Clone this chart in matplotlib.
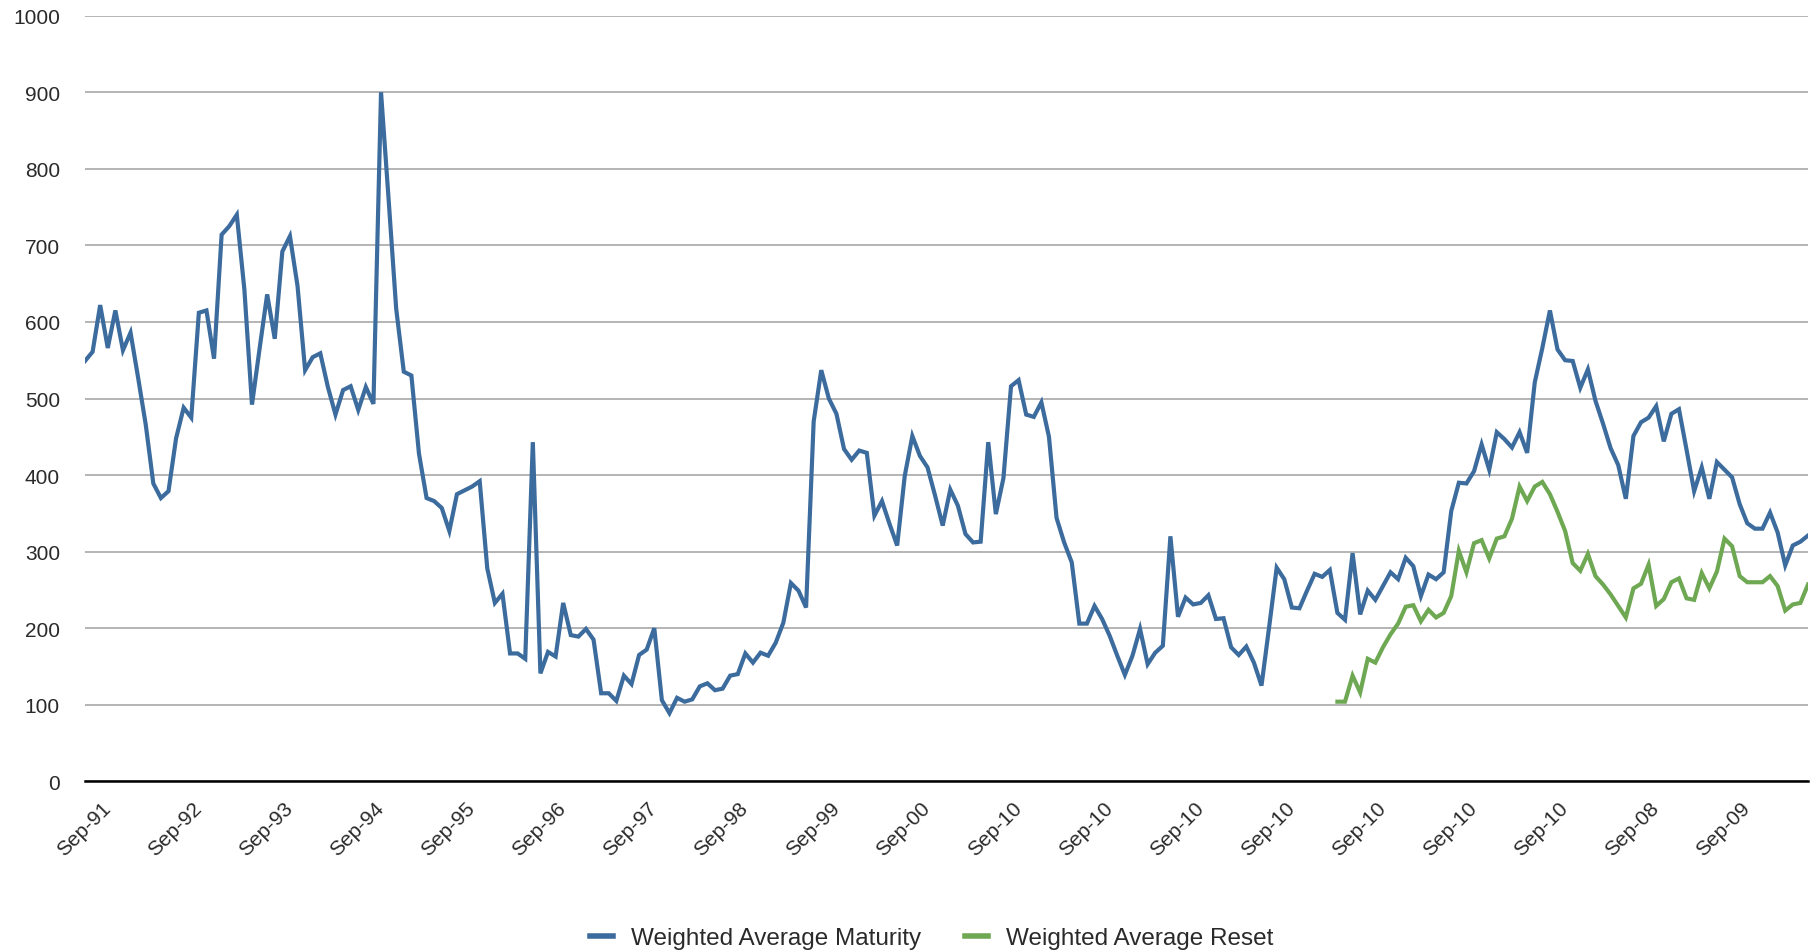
import numpy as np
import matplotlib
matplotlib.use("Agg")
import matplotlib.pyplot as plt

plt.rcParams['font.family'] = ['Liberation Sans', 'DejaVu Sans']

tick_labels = ["Sep-91", "Sep-92", "Sep-93", "Sep-94", "Sep-95", "Sep-96", "Sep-97",
               "Sep-98", "Sep-99", "Sep-00", "Sep-10", "Sep-10", "Sep-10", "Sep-10",
               "Sep-10", "Sep-10", "Sep-10", "Sep-08", "Sep-09"]

wam = [549, 561, 622, 566, 615, 563, 586, 527, 466, 389, 370, 379, 448, 488, 475, 612,
       615, 552, 714, 725, 740, 642, 492, 565, 636, 578, 692, 712, 647, 537, 554, 559,
       515, 479, 511, 516, 485, 515, 493, 900, 760, 617, 535, 530, 428, 370, 366, 357,
       327, 375, 380, 385, 392, 278, 233, 245, 167, 167, 160, 443, 141, 169, 163, 233,
       191, 189, 199, 185, 115, 115, 105, 138, 127, 165, 172, 200, 106, 89, 109, 104,
       107, 124, 128, 119, 121, 138, 140, 167, 155, 168, 164, 181, 207, 259, 249, 227,
       470, 537, 500, 480, 434, 420, 432, 429, 347, 366, 336, 308, 399, 451, 425, 410,
       373, 334, 381, 360, 323, 312, 313, 443, 349, 396, 516, 524, 479, 476, 495, 450,
       344, 312, 286, 206, 206, 229, 212, 190, 164, 139, 164, 199, 153, 168, 177, 320,
       215, 240, 231, 233, 243, 212, 213, 175, 165, 176, 155, 125, 201, 279, 264, 227,
       226, 249, 271, 267, 276, 220, 211, 298, 218, 249, 237, 255, 273, 264, 292, 281,
       242, 270, 264, 273, 353, 390, 389, 405, 440, 407, 456, 447, 436, 456, 429, 521,
       566, 615, 564, 550, 549, 514, 538, 497, 467, 435, 413, 369, 451, 469, 475, 490,
       444, 480, 486, 433, 379, 410, 369, 417, 407, 397, 362, 337, 330, 330, 351, 325,
       282, 308, 313, 321]

war_values = [104, 104, 138, 116, 160, 155, 175, 192, 206, 228, 230, 209, 224, 214, 220,
              242, 301, 273, 311, 315, 291, 317, 320, 343, 385, 366, 385, 391, 375, 352,
              327, 285, 275, 297, 268, 257, 244, 229, 214, 252, 258, 283, 229, 238, 260,
              265, 239, 237, 272, 252, 274, 317, 307, 268, 260, 260, 260, 268, 255, 223,
              231, 233, 257]

n = len(wam)
war = [np.nan] * (n - len(war_values)) + war_values
x = np.arange(n)

W, H = 1820, 953
fig = plt.figure(figsize=(W / 100, H / 100), dpi=100)
ax = fig.add_axes([85 / W, 1 - 782.3 / H, (1808 - 85) / W, (782.3 - 16.7) / H])

blue = '#3C6B9D'
green = '#6EA853'
l1, = ax.plot(x, wam, color=blue, lw=3.0, solid_joinstyle='miter', label='Weighted Average Maturity', zorder=3)
l2, = ax.plot(x, war, color=green, lw=3.0, solid_joinstyle='miter', label='Weighted Average Reset', zorder=3)

ax.set_xlim(0, n - 1)
ax.set_ylim(0, 1000)
ax.set_yticks(np.arange(0, 1001, 100))
ax.yaxis.grid(True, color='#A8A8A8', lw=1.2)
ax.set_axisbelow(True)
for s in ['top', 'right', 'left']:
    ax.spines[s].set_visible(False)
ax.spines['bottom'].set_color('black')
ax.spines['bottom'].set_linewidth(1.8)
ax.spines['bottom'].set_zorder(4)

ax.tick_params(axis='y', length=0, pad=18, labelsize=15, labelcolor='#2a2a2a')
tick_pos = np.arange(3, 3 + 12 * len(tick_labels), 12)
ax.set_xticks(tick_pos)
ax.set_xticklabels(tick_labels, rotation=45, ha='right', va='center',
                   rotation_mode='anchor', fontsize=15, color='#2a2a2a')
ax.tick_params(axis='x', length=0, pad=17)

leg = fig.legend(handles=[l1, l2], loc='center', bbox_to_anchor=(0.512, 1 - 939 / H),
                 ncol=2, frameon=False, fontsize=17.5, handlelength=0.95,
                 handletextpad=0.75, columnspacing=1.8)
for t in leg.get_texts():
    t.set_color('#2a2a2a')
for h in leg.legend_handles:
    h.set_linewidth(4)

fig.savefig('out.png', dpi=100, facecolor='white')
